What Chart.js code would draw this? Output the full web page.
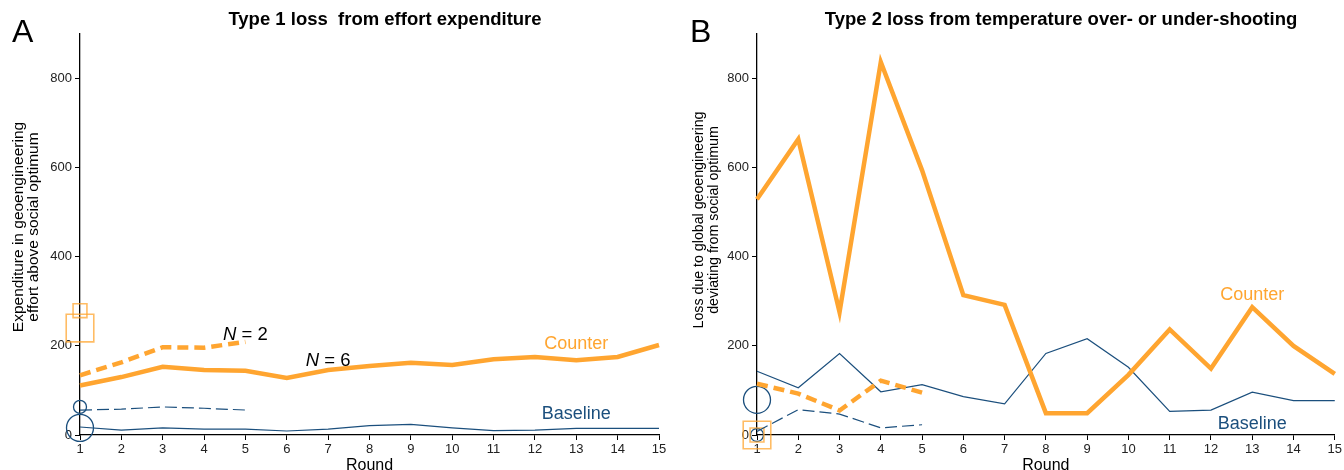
<!doctype html>
<html lang="en">
<head>
<meta charset="utf-8">
<title>Type 1 and Type 2 loss</title>
<style>
  * { margin: 0; padding: 0; }
  body { background: #fff; width: 1344px; height: 470px; overflow: hidden; }
  .panel { position: absolute; top: 0; width: 672px; height: 470px; }
</style>
</head>
<body>
<div class="panel" style="left:0"><canvas id="chartA" width="672" height="470"></canvas></div>
<div class="panel" style="left:672px"><canvas id="chartB" width="672" height="470"></canvas></div>
<script src="https://cdn.jsdelivr.net/npm/chart.js@4/dist/chart.umd.min.js"></script>
<script>
// data
const rounds = [1, 2, 3, 4, 5, 6, 7, 8, 9, 10, 11, 12, 13, 14, 15];
const yTicks = [0, 200, 400, 600, 800];

// panel A: effort expenditure above social optimum
const effortCounter = [111, 130, 153, 146, 144, 128, 146, 155, 162, 157, 170, 175, 168, 175, 202];
const effortCounterN2 = [134, 163, 197, 196, 209];
const effortBaseline = [18, 11, 16, 13, 13, 9, 13, 21, 24, 16, 10, 11, 15, 15, 15];
const effortBaselineN2 = [56, 58, 63, 60, 56];
const effortCounterMarks = [279, 240];   // round 1: N=2 group, N=6 group
const effortBaselineMarks = [63, 16];

// panel B: loss from temperature deviation
const lossCounter = [529, 664, 276, 837, 594, 314, 292, 49, 49, 135, 237, 149, 287, 200, 137];
const lossCounterN2 = [115, 93, 55, 122, 95];
const lossBaseline = [143, 106, 183, 97, 113, 86, 70, 183, 216, 152, 53, 56, 96, 77, 77];
const lossBaselineN2 = [8, 57, 47, 16, 23];
const lossCounterMarks = [0, 0];
const lossBaselineMarks = [0, 79];

const ORANGE = '#ffa530';
const ORANGE_LIGHT = 'rgba(255, 165, 48, 0.75)';
const BLUE = '#1b4f7d';
const FONT = '"Liberation Sans", Arial, sans-serif';

const pts = vals => vals.map((v, i) => ({ x: rounds[i], y: v }));
const at1 = vals => vals.map(v => ({ x: 1, y: v }));

function datasets(counter, counterN2, baseline, baselineN2, cMarks, bMarks) {
  return [
    { data: pts(counter), borderColor: ORANGE, borderWidth: 4.5 },
    { data: pts(counterN2), borderColor: ORANGE, borderWidth: 4.5, borderDash: [11, 6] },
    { data: pts(baseline), borderColor: BLUE, borderWidth: 1.2 },
    { data: pts(baselineN2), borderColor: BLUE, borderWidth: 1.2, borderDash: [12, 5] },
    // group-size markers at round 1 (small = N 2, big = N 6)
    { data: at1(cMarks), showLine: false, pointStyle: 'rect', pointRadius: [9.8, 19.5],
      pointBorderColor: ORANGE_LIGHT, pointBackgroundColor: 'rgba(0,0,0,0)', pointBorderWidth: 1.6 },
    { data: at1(bMarks), showLine: false, pointStyle: 'circle', pointRadius: [6.5, 13.5],
      pointBorderColor: BLUE, pointBackgroundColor: 'rgba(0,0,0,0)', pointBorderWidth: 1.3 }
  ].map(d => Object.assign({ pointRadius: 0, tension: 0, fill: false, clip: false }, d));
}

// text that sits round the plot: letter, title, axis titles, line labels
const textLayer = {
  id: 'textLayer',
  afterDraw(chart, args, opts) {
    const { ctx, chartArea: { left, right }, scales: { x, y } } = chart;
    ctx.save();
    ctx.fillStyle = '#000';
    ctx.textBaseline = 'alphabetic';
    ctx.textAlign = 'left';
    ctx.font = '32px ' + FONT;
    ctx.fillText(opts.letter, opts.letterX, 42);

    ctx.textAlign = 'center';
    ctx.textBaseline = 'middle';
    ctx.font = 'bold 18.5px ' + FONT;
    ctx.fillText(opts.title, opts.titleX, 20);

    ctx.font = '16px ' + FONT;
    ctx.fillText('Round', (left + right) / 2, 466);

    ctx.font = opts.yTitleSize + 'px ' + FONT;
    opts.yTitle.forEach((line, i) => {
      ctx.save();
      ctx.translate(opts.yTitleX[i], opts.yTitleY);
      ctx.rotate(-Math.PI / 2);
      ctx.fillText(line, 0, 0);
      ctx.restore();
    });

    opts.labels.forEach(l => {
      const px = x.getPixelForValue(l.round);
      const py = y.getPixelForValue(l.value);
      ctx.fillStyle = l.color;
      if (l.italic) {
        ctx.textAlign = 'left';
        ctx.font = 'italic 18.5px ' + FONT;
        const w1 = ctx.measureText(l.italic).width;
        ctx.font = '18.5px ' + FONT;
        const w2 = ctx.measureText(l.text).width;
        const x0 = px - (w1 + w2) / 2;
        ctx.font = 'italic 18.5px ' + FONT;
        ctx.fillText(l.italic, x0, py);
        ctx.font = '18.5px ' + FONT;
        ctx.fillText(l.text, x0 + w1, py);
      } else {
        ctx.textAlign = 'center';
        ctx.font = '18px ' + FONT;
        ctx.fillText(l.text, px, py);
      }
    });
    ctx.restore();
  }
};

function makeChart(id, data, yWidth, padRight, text) {
  const tickFont = { family: FONT, size: 13 };
  return new Chart(document.getElementById(id), {
    type: 'line',
    data: { datasets: data },
    options: {
      responsive: false,
      animation: false,
      layout: { autoPadding: false, padding: { top: 34, right: padRight, left: 0, bottom: 0 } },
      scales: {
        x: {
          type: 'linear', min: 1, max: 15,
          afterBuildTicks: s => { s.ticks = rounds.map(v => ({ value: v })); },
          afterFit: s => { s.height = 35; },
          ticks: { font: tickFont, color: '#222', padding: 2, autoSkip: false, maxRotation: 0 },
          grid: { drawOnChartArea: false, tickLength: 5, color: '#000' },
          border: { color: '#000', width: 1.3 }
        },
        y: {
          min: 0, max: 900,
          afterBuildTicks: s => { s.ticks = yTicks.map(v => ({ value: v })); },
          afterFit: s => { s.width = yWidth; },
          ticks: { font: tickFont, color: '#222', padding: 3 },
          grid: { drawOnChartArea: false, tickLength: 5, color: '#000' },
          border: { color: '#000', width: 1.3 }
        }
      },
      plugins: {
        legend: { display: false },
        tooltip: { enabled: false },
        textLayer: text
      }
    },
    plugins: [textLayer]
  });
}

makeChart('chartA',
  datasets(effortCounter, effortCounterN2, effortBaseline, effortBaselineN2, effortCounterMarks, effortBaselineMarks),
  80, 13,
  {
    letter: 'A', letterX: 12,
    title: 'Type 1 loss  from effort expenditure', titleX: 385,
    yTitle: ['Expenditure in geoengineering', 'effort above social optimum'],
    yTitleX: [19, 34], yTitleY: 227, yTitleSize: 15.5,
    labels: [
      { text: 'Counter', round: 13.0, value: 204, color: ORANGE },
      { text: 'Baseline', round: 13.0, value: 46, color: BLUE },
      { italic: 'N', text: ' = 2', round: 5.0, value: 224, color: '#000' },
      { italic: 'N', text: ' = 6', round: 7.0, value: 166, color: '#000' }
    ]
  });

makeChart('chartB',
  datasets(lossCounter, lossCounterN2, lossBaseline, lossBaselineN2, lossCounterMarks, lossBaselineMarks),
  85, 8,
  {
    letter: 'B', letterX: 18,
    title: 'Type 2 loss from temperature over- or under-shooting', titleX: 389,
    yTitle: ['Loss due to global geoengineering', 'deviating from social optimum'],
    yTitleX: [27, 42], yTitleY: 220, yTitleSize: 14.2,
    labels: [
      { text: 'Counter', round: 13.0, value: 315, color: ORANGE },
      { text: 'Baseline', round: 13.0, value: 25, color: BLUE }
    ]
  });
</script>
</body>
</html>
